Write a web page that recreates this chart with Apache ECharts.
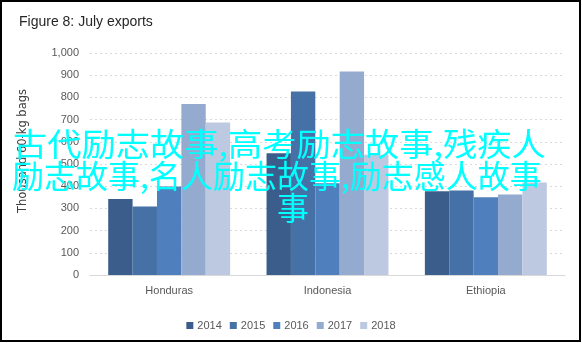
<!DOCTYPE html>
<html>
<head>
<meta charset="utf-8">
<script src="https://cdn.jsdelivr.net/npm/echarts@6/dist/echarts.min.js"></script>
<style>
  html, body { margin: 0; padding: 0; background: #fff; }
  #chart { width: 582px; height: 343px; }
</style>
</head>
<body>
<div id="chart"></div>
<script>
// Countries on the x axis
const countries = ['Honduras', 'Indonesia', 'Ethiopia'];
// One series per year
const years = ['2014', '2015', '2016', '2017', '2018'];
// July exports, thousand 60-kg bags, per country (Honduras, Indonesia, Ethiopia)
const exports2014 = [342, 548, 377];
const exports2015 = [309, 827, 381];
const exports2016 = [399, 413, 350];
const exports2017 = [770, 917, 363];
const exports2018 = [687, 542, 417];
const yearColors = ['#3B5D8B', '#4571A6', '#4F80BD', '#95AACF', '#BDC9E0'];
const overlayLines = ['古代励志故事,高考励志故事,残疾人', '励志故事,名人励志故事,励志感人故事', '事'];

const seriesValues = [exports2014, exports2015, exports2016, exports2017, exports2018];
const baseFont = '"Liberation Sans", "DejaVu Sans", sans-serif';
const cjkFont = '"Noto Sans CJK SC", sans-serif';

const chart = echarts.init(document.getElementById('chart'), null, { renderer: 'canvas' });

// Banner text block: first two lines run the full width, the last one is centred.
function bannerLine(text, y, opts) {
  return Object.assign({
    type: 'text',
    z: 100,
    y: y,
    style: {
      text: text,
      fill: '#00FFFF',
      fontFamily: cjkFont,
      fontSize: 32,
      verticalAlign: 'middle'
    }
  }, opts);
}

chart.setOption({
  animation: false,
  backgroundColor: '#ffffff',
  title: {
    text: 'Figure 8: July exports',
    left: 14,
    top: 10,
    textStyle: { fontFamily: baseFont, fontSize: 14, fontWeight: 'normal', color: '#262626' }
  },
  grid: { left: 90, right: 17, top: 53, bottom: 68, containLabel: false },
  legend: {
    data: years,
    left: 'center',
    top: 315,
    itemWidth: 7,
    itemHeight: 7,
    itemGap: 8,
    icon: 'rect',
    textStyle: { fontFamily: baseFont, fontSize: 11, color: '#595959', padding: [0, 0, 0, -1] }
  },
  xAxis: {
    type: 'category',
    data: countries,
    axisTick: { show: false },
    axisLine: { show: true, lineStyle: { color: '#D9D9D9', width: 1 } },
    axisLabel: { fontFamily: baseFont, fontSize: 11, color: '#595959', margin: 10 }
  },
  yAxis: {
    type: 'value',
    min: 0,
    max: 1000,
    interval: 100,
    axisLine: { show: false },
    axisTick: { show: false },
    axisLabel: {
      fontFamily: baseFont,
      fontSize: 11,
      color: '#595959',
      margin: 11,
      formatter: v => v.toLocaleString('en-US')
    },
    splitLine: { show: true, lineStyle: { color: '#D9D9D9', type: [2, 3], width: 1 } }
  },
  series: years.map((y, i) => ({
    name: y,
    type: 'bar',
    data: seriesValues[i],
    barGap: '0%',
    barCategoryGap: '23%',
    itemStyle: { color: yearColors[i] }
  })),
  graphic: [
    {
      // y-axis title
      type: 'text',
      x: 23,
      y: 151,
      rotation: Math.PI / 2,
      style: {
        text: 'Thousand 60-kg bags',
        fill: '#404040',
        fontFamily: '"DejaVu Sans", sans-serif',
        fontSize: 11.5,
        align: 'center',
        verticalAlign: 'middle'
      }
    },
    bannerLine(overlayLines[0], 144, { x: 13, scaleX: 1.07 }),
    bannerLine(overlayLines[1], 176, { x: 12 }),
    bannerLine(overlayLines[2], 208, { x: 293, style: {
      text: overlayLines[2], fill: '#00FFFF', fontFamily: cjkFont, fontSize: 32,
      verticalAlign: 'middle', align: 'center'
    } }),
    {
      type: 'rect',
      z: 100,
      shape: { x: 1, y: 1, width: 579, height: 340 },
      style: { fill: 'none', stroke: '#000000', lineWidth: 2 }
    }
  ]
});
</script>
</body>
</html>
